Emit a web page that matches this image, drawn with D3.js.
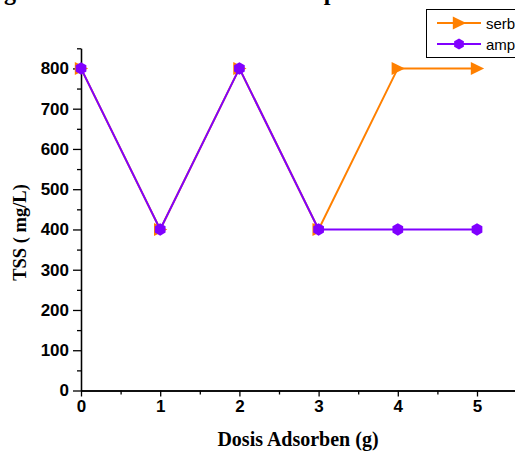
<!DOCTYPE html>
<html>
<head>
<meta charset="utf-8">
<script src="https://cdn.jsdelivr.net/npm/d3@7"></script>
<style>
  html, body { margin: 0; padding: 0; background: #fff; overflow: hidden; }
  svg { display: block; }
</style>
</head>
<body>
<div id="chart"></div>
<script>
// chart values
var doses        = [0, 1, 2, 3, 4, 5];
var serbukValues = [800, 400, 800, 400, 800, 800];
var ampasValues  = [800, 400, 800, 400, 400, 400];
var seriesNames  = ["serbuk gergaji", "ampas tebu"];
var xTicks       = [0, 1, 2, 3, 4, 5];
var xMinorTicks  = [0.5, 1.5, 2.5, 3.5, 4.5, 5.5];
var yTicks       = [0, 100, 200, 300, 400, 500, 600, 700, 800];
var yMinorTicks  = [50, 150, 250, 350, 450, 550, 650, 750, 850];
var titleText    = "Pengaruh Dosis Adsorben Terhadap TSS";
var xLabel       = "Dosis Adsorben (g)";
var yLabel       = "TSS ( mg/L)";

var width  = 515;
var height = 453;
var orange = "#ff8000";
var violet = "#8000ff";
var sans   = "'Liberation Sans', Arial, sans-serif";
var serif  = "'Liberation Serif', 'Times New Roman', serif";

var svg = d3.select("#chart").append("svg").attr("width", width).attr("height", height);

var x = d3.scaleLinear().domain([0, 5.6]).range([81, 81 + 79.2 * 5.6]);
var y = d3.scaleLinear().domain([0, 850]).range([390.5, 48.3]);

// custom marker shapes
var hexagon =
{
  draw: function (ctx, r)
  {
    for (var i = 0; i < 6; i++)
    {
      var a = Math.PI / 6 + i * Math.PI / 3;
      if (i == 0) ctx.moveTo(r * Math.cos(a), r * Math.sin(a));
      else        ctx.lineTo(r * Math.cos(a), r * Math.sin(a));
    }
    ctx.closePath();
  }
};

var triangleRight =
{
  draw: function (ctx, r)
  {
    ctx.moveTo(r * 1.1, 0);
    ctx.lineTo(-r * 0.95, -r);
    ctx.lineTo(-r * 0.95, r);
    ctx.closePath();
  }
};

// cut-off title at the top edge
var title = svg.append("text")
  .attr("y", 0)
  .style("font-family", serif).style("font-weight", "bold").style("font-size", "20px")
  .text(titleText);

(function fitTitle()
{
  var node = title.node();
  var gi   = titleText.indexOf("g");
  var pi   = titleText.lastIndexOf("p");
  var d    = node.getStartPositionOfChar(pi).x - node.getStartPositionOfChar(gi).x;
  var size = 20 * 320 / d;
  title.style("font-size", size + "px");
  var g0 = node.getStartPositionOfChar(gi).x;
  title.attr("x", 4 - g0).attr("y", -0.5);
})();

// axes
var axisStyle = function (g)
{
  g.selectAll("path, line").attr("stroke", "#000").attr("stroke-width", 1.3);
  g.selectAll("text").style("font-family", sans).style("font-weight", "bold").style("font-size", "17px").attr("fill", "#000");
};

svg.append("g").attr("transform", "translate(0," + y(0) + ")")
  .call(d3.axisBottom(x).tickValues(xMinorTicks).tickSize(4).tickSizeOuter(0).tickFormat(""))
  .call(axisStyle);

svg.append("g").attr("transform", "translate(0," + y(0) + ")")
  .call(d3.axisBottom(x).tickValues(xTicks).tickSize(6).tickSizeOuter(0).tickPadding(3).tickFormat(d3.format("d")))
  .call(axisStyle);

svg.append("g").attr("transform", "translate(" + x(0) + ",0)")
  .call(d3.axisLeft(y).tickValues(yMinorTicks).tickSize(4).tickSizeOuter(0).tickFormat(""))
  .call(axisStyle);

svg.append("g").attr("transform", "translate(" + x(0) + ",0)")
  .call(d3.axisLeft(y).tickValues(yTicks).tickSize(8).tickSizeOuter(0).tickPadding(4).tickFormat(d3.format("d")))
  .call(axisStyle);

// axis titles
svg.append("text")
  .attr("x", 298).attr("y", 446)
  .attr("text-anchor", "middle")
  .style("font-family", serif).style("font-weight", "bold").style("font-size", "20px")
  .text(xLabel);

svg.append("text")
  .attr("transform", "translate(26,232.5) rotate(-90)")
  .attr("text-anchor", "middle")
  .style("font-family", serif).style("font-weight", "bold").style("font-size", "18.5px")
  .text(yLabel);

// series: line then markers, violet drawn on top
var line = d3.line().x(function (d, i) { return x(doses[i]); }).y(function (d) { return y(d); });

function drawSeries(values, color, shape, r)
{
  svg.append("path")
    .attr("d", line(values))
    .attr("fill", "none").attr("stroke", color).attr("stroke-width", 2);

  svg.append("g").selectAll("path").data(values).join("path")
    .attr("transform", function (d, i) { return "translate(" + x(doses[i]) + "," + y(d) + ")"; })
    .attr("d", d3.symbol().type(shape).size(r))
    .attr("fill", color);
}

// d3.symbol passes size straight to draw(), so use it as radius
drawSeries(serbukValues, orange, triangleRight, 6.5);
drawSeries(ampasValues,  violet, hexagon,       6.2);

// legend (runs past the right edge)
var legend = svg.append("g");

legend.append("rect")
  .attr("x", 426.5).attr("y", 9.5).attr("width", 120).attr("height", 48)
  .attr("fill", "#fff").attr("stroke", "#000").attr("stroke-width", 1);

var legendRows = [
  { name: seriesNames[0], color: orange, shape: triangleRight, r: 6.5 },
  { name: seriesNames[1], color: violet, shape: hexagon,       r: 5.6 }
];

legendRows.forEach(function (row, i)
{
  var ly = 23 + i * 21;
  legend.append("line")
    .attr("x1", 437).attr("x2", 481).attr("y1", ly).attr("y2", ly)
    .attr("stroke", row.color).attr("stroke-width", 2);
  legend.append("path")
    .attr("transform", "translate(459," + ly + ")")
    .attr("d", d3.symbol().type(row.shape).size(row.r))
    .attr("fill", row.color);
  legend.append("text")
    .attr("x", 486).attr("y", ly + 5.5)
    .style("font-family", sans).style("font-size", "15px")
    .text(row.name);
});
</script>
</body>
</html>
